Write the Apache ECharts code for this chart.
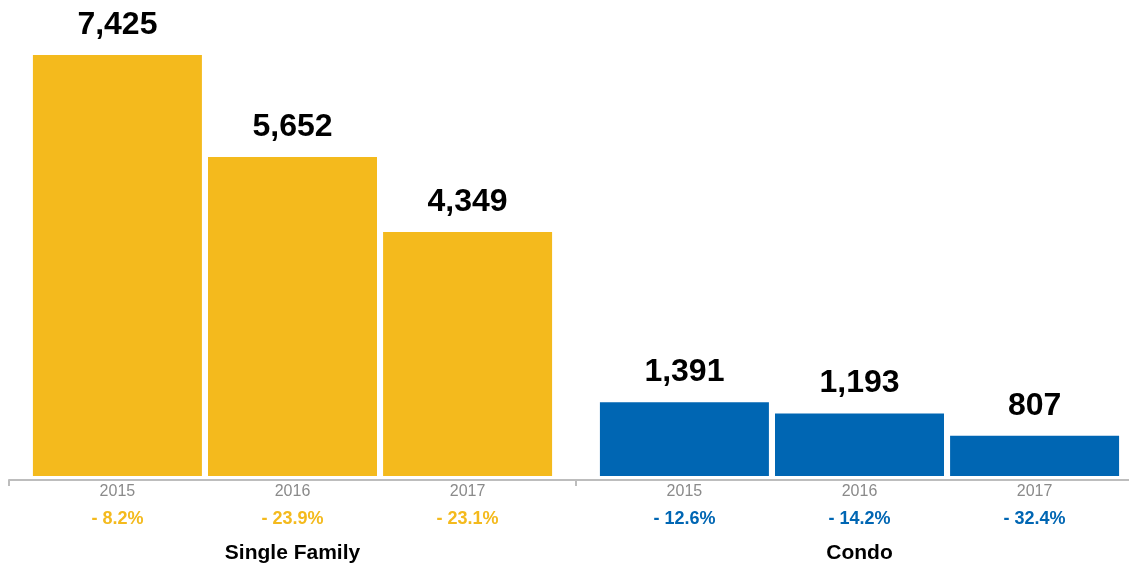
<!DOCTYPE html>
<html><head><meta charset="utf-8">
<script src="https://cdn.jsdelivr.net/npm/echarts@6/dist/echarts.min.js"></script>
<style>html,body{margin:0;padding:0;background:#fff;overflow:hidden;width:1129px;height:566px}#c{width:1143px;height:566px}</style>
</head><body><div id="c"></div>
<script>
const categories = ['Single Family', 'Condo'];
const years = ['2015', '2016', '2017'];
const values2015 = [7425, 1391];
const values2016 = [5652, 1193];
const values2017 = [4349, 807];
const change2015 = ['- 8.2%', '- 12.6%'];
const change2016 = ['- 23.9%', '- 14.2%'];
const change2017 = ['- 23.1%', '- 32.4%'];
const groupColors = ['#F4BA1D', '#0066B3'];

const valuesByYear = [values2015, values2016, values2017];
const changesByYear = [change2015, change2016, change2017];
const FONT = '"Liberation Sans", Arial, Helvetica, sans-serif';

const series = [];
years.forEach((yr, i) => {
  const vals = valuesByYear[i];
  const chg = changesByYear[i];
  series.push({
    type: 'bar', name: yr, stack: 's' + yr, data: vals,
    barWidth: 169, barGap: '3.6%',
    itemStyle: { color: p => groupColors[p.dataIndex] },
    label: {
      show: true, position: 'bottom', distance: 3,
      formatter: p => '{y|' + yr + '}\n{' + (p.dataIndex ? 'pb' : 'py') + '|' + chg[p.dataIndex] + '}',
      rich: {
        y: { fontSize: 16, color: '#8a8a8a', lineHeight: 26, fontFamily: FONT },
        py: { fontSize: 18, fontWeight: 'bold', color: groupColors[0], lineHeight: 28, fontFamily: FONT },
        pb: { fontSize: 18, fontWeight: 'bold', color: groupColors[1], lineHeight: 28, fontFamily: FONT }
      }
    }
  });
  series.push({
    type: 'bar', name: yr + ' value', stack: 's' + yr, data: vals.map(() => 0),
    barWidth: 169, barGap: '3.6%', silent: true,
    itemStyle: { color: 'rgba(0,0,0,0)' },
    label: {
      show: true, position: 'top', distance: 14,
      formatter: p => vals[p.dataIndex].toLocaleString('en-US'),
      fontSize: 32, fontWeight: 'bold', color: '#000', fontFamily: FONT
    }
  });
});

const chart = echarts.init(document.getElementById('c'));
chart.setOption({
  animation: false,
  textStyle: { fontFamily: FONT },
  grid: { left: 9, top: 40, right: 0, bottom: 90, containLabel: false },
  xAxis: {
    type: 'category', data: categories, offset: 4,
    axisLine: { show: true, lineStyle: { color: '#bdbdbd', width: 2 } },
    axisTick: { show: true, length: 6, lineStyle: { color: '#bdbdbd', width: 2 } },
    axisLabel: { margin: 63, fontSize: 21, fontWeight: 'bold', color: '#000', fontFamily: FONT },
    splitLine: { show: false }
  },
  yAxis: {
    type: 'value', min: 108, max: 7685, show: false,
    splitLine: { show: false }
  },
  series: series
});
</script>
</body></html>
